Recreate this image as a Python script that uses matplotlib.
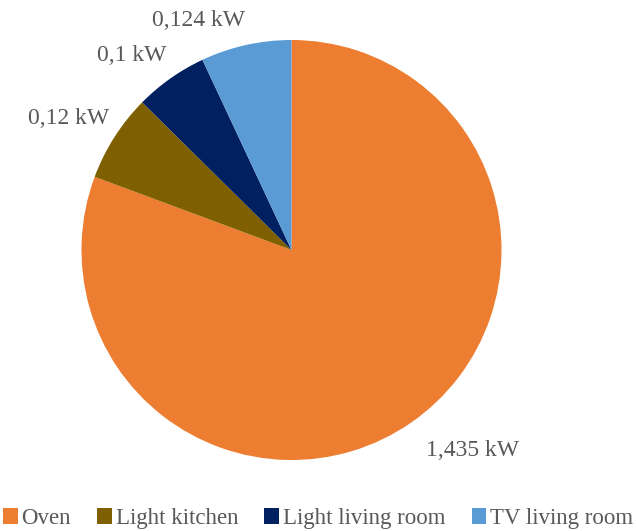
import matplotlib.pyplot as plt
import numpy as np

plt.rcParams['font.family'] = ['Liberation Serif', 'DejaVu Serif']

# power draw per appliance, kW
labels = ["Oven", "Light kitchen", "Light living room", "TV living room"]
values = [1.435, 0.12, 0.1, 0.124]
value_text = ["1,435 kW", "0,12 kW", "0,1 kW", "0,124 kW"]
colors = ["#ED7D31", "#7F6000", "#002060", "#5B9BD5"]
TEXT_GRAY = "#595959"

fig = plt.figure(figsize=(6.36, 5.31), dpi=100)
# square axes sized so the pie fills 420 px
ax = fig.add_axes([81.5 / 636, 71 / 531, 420 / 636, 420 / 531])

wedges, _ = ax.pie(
    values,
    colors=colors,
    startangle=90,
    counterclock=False,
    radius=1.0,
    wedgeprops=dict(linewidth=0),
)
ax.set_xlim(-1, 1)
ax.set_ylim(-1, 1)
ax.set_aspect("equal")
ax.axis("off")

# value labels just outside each wedge
for w, txt in zip(wedges, value_text):
    mid = np.deg2rad((w.theta1 + w.theta2) / 2)
    c, s = np.cos(mid), np.sin(mid)
    if c >= 0:
        x, y, ha = 1.12 * c, 1.1 * s, "left"
    else:
        x, y, ha = 1.03 * c, 1.07 * s, "right"
    va = "bottom" if s >= 0 else "top"
    ax.text(x, y, txt, ha=ha, va=va, fontsize=17, color=TEXT_GRAY)

leg = fig.legend(
    wedges,
    labels,
    loc="lower center",
    bbox_to_anchor=(0.5, -0.035),
    ncol=4,
    frameon=False,
    fontsize=16.5,
    handlelength=0.65,
    handleheight=0.65,
    handletextpad=0.15,
    columnspacing=1.15,
)
for t in leg.get_texts():
    t.set_color(TEXT_GRAY)

fig.savefig("out.png", dpi=100)
